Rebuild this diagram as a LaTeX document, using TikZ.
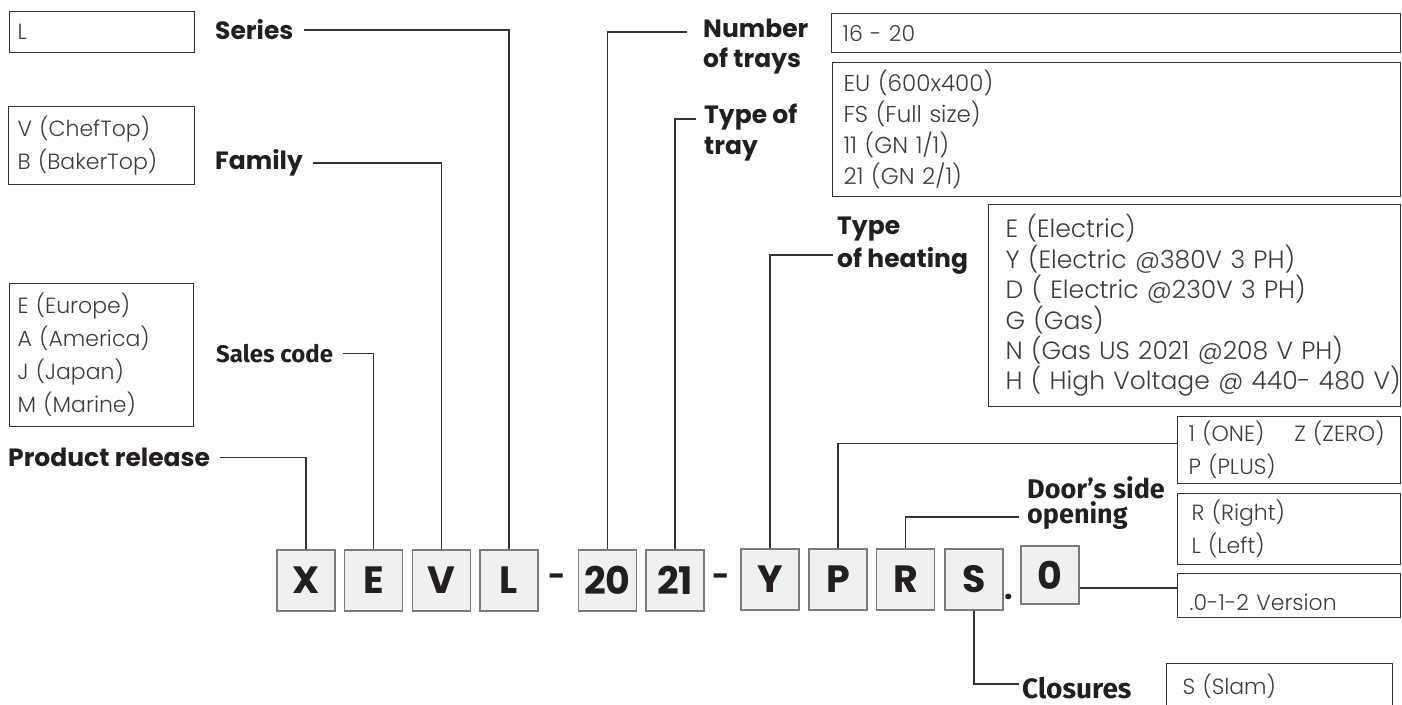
\documentclass[tikz,border=0pt]{standalone}
\usepackage{fontspec}
\setmainfont{Poppins}
\newfontfamily\lightfont{Poppins Light}
\newfontfamily\firafont{Fira Sans}
\usetikzlibrary{positioning}
\definecolor{inkc}{HTML}{231F20}
\definecolor{linec}{HTML}{333333}
\definecolor{optc}{HTML}{3C3C3C}
\definecolor{boxfill}{HTML}{EFF0F2}
\definecolor{boxdraw}{HTML}{7A7A7A}
\tikzset{
    letterbox/.style={draw=boxdraw, fill=boxfill, line width=1.5pt,
        minimum width=58pt, minimum height=61pt, inner sep=0pt,
        font=\fontsize{38}{40}\selectfont\bfseries, text=inkc},
    optbox/.style={draw=linec, line width=1.2pt, anchor=north west,
        align=left, inner ysep=0pt, text=optc,
        font=\lightfont\fontsize{22}{33}\selectfont},
    tag/.style={anchor=west, inner xsep=10pt, inner ysep=0pt, align=left,
        text=inkc, font=\fontsize{25}{30}\selectfont\bfseries},
    ftag/.style={tag, font=\firafont\fontsize{24}{24}\selectfont\bfseries},
    sepmark/.style={inner sep=0pt, text=inkc, font=\fontsize{30}{30}\selectfont\bfseries},
    link/.style={draw=linec, line width=1.3pt},
    heavylink/.style={draw=linec, line width=2.4pt}
}
\begin{document}
\begin{tikzpicture}[x=1pt, y=-1pt]
    \useasboundingbox (0,0) rectangle (1402,704);
    % code letters
    \node[letterbox] (bX) at (306,580.5) {X};
    \node[letterbox] (bE) at (373.5,580.5) {E};
    \node[letterbox] (bV) at (441.5,580.5) {V};
    \node[letterbox] (bL) at (509,580.5) {L};
    \node[sepmark] (dashA) at (557,580) {-};
    \node[letterbox] (b20) at (607.5,580.5) {20};
    \node[letterbox] (b21) at (675,580.5) {21};
    \node[sepmark] (dashB) at (721,580) {-};
    \node[letterbox] (bY) at (770,579.5) {Y};
    \node[letterbox] (bP) at (838,579.5) {P};
    \node[letterbox] (bR) at (905.5,579.5) {R};
    \node[letterbox] (bS) at (974,579.5) {S};
    \node[sepmark] (dotA) at (1009,597) {.};
    \node[letterbox, minimum height=58pt] (b0) at (1050,575) {0};
    % option boxes
    \node[optbox, inner xsep=8pt, text width=169pt, minimum height=41pt] (oSeries) at (9,11) {L};
    \node[optbox, inner xsep=9pt, text width=168pt, minimum height=78pt] (oFamily) at (8,106)
        {V (ChefTop)\\B (BakerTop)};
    \node[optbox, inner xsep=8pt, text width=168pt, minimum height=143pt] (oSales) at (9,283)
        {E (Europe)\\A (America)\\J (Japan)\\M (Marine)};
    \node[optbox, inner xsep=11pt, text width=547pt, minimum height=39pt] (oTrays) at (831,13) {16 - 20};
    \node[optbox, inner xsep=11pt, text width=546pt, minimum height=134pt, font=\lightfont\fontsize{23}{31}\selectfont] (oTray) at (832,62)
        {EU (600x400)\\FS (Full size)\\11 (GN 1/1)\\21 (GN 2/1)};
    \node[optbox, inner xsep=17pt, text width=378pt, minimum height=202pt, font=\lightfont\fontsize{25}{30.4}\selectfont] (oHeat) at (988,204)
        {E (Electric)\\Y (Electric @380V 3 PH)\\D ( Electric @230V 3 PH)\\G (Gas)\\N (Gas US 2021 @208 V PH)\\\mbox{H ( High Voltage @ 440- 480 V)}};
    \node[optbox, inner xsep=11pt, text width=201pt, minimum height=67pt] (oModel) at (1177,416)
        {1 (ONE)\hspace{30pt}Z (ZERO)\\P (PLUS)};
    \node[optbox, inner xsep=14pt, text width=195pt, minimum height=71pt] (oDoor) at (1177,493)
        {R (Right)\\L (Left)};
    \node[optbox, inner xsep=12pt, text width=199pt, minimum height=44pt, text height=30pt, text depth=1pt] (oVer) at (1177,573)
        {.0-1-2 Version};
    \node[optbox, inner xsep=16pt, text width=194pt, minimum height=45pt] (oClos) at (1166,663) {S (Slam)};
    % field names
    \node[tag] (tSeries) at (205,30) {Series};
    \node[tag] (tFamily) at (205,163) {Family};
    \node[ftag] (tSales) at (206,353.5) {Sales code};
    \node[tag] (tRelease) at (-2,457.5) {Product release};
    \node[tag] (tTrays) at (693,47) {Number\\of trays};
    \node[tag, font=\fontsize{25}{31}\selectfont\bfseries] (tTray) at (694,132.5) {Type of\\tray};
    \node[tag, font=\fontsize{25}{33}\selectfont\bfseries] (tHeat) at (827,245.5) {Type\\of heating};
    \node[ftag, font=\firafont\fontsize{27}{25}\selectfont\bfseries] (tDoor) at (1017,503) {Door’s side\\opening};
    \node[ftag, font=\firafont\fontsize{28}{28}\selectfont\bfseries] (tClos) at (1012,688) {Closures};
    \coordinate (trays-c) at (687,32);
    \coordinate (tray-c) at (696,119);
    \coordinate (heat-c) at (833,255);
    \coordinate (door-c) at (1019,517);
    \coordinate (clos-c) at (1019,684);
    \coordinate (ver-c) at ([yshift=-13pt]b0.east);
    % connectors
    \draw[link] (tSeries.east) -| (bL.north);
    \draw[link] (tFamily.east) -| (bV.north);
    \draw[link] (tSales.east) -| (bE.north);
    \draw[link] (tRelease.east) -| (bX.north);
    \draw[link] (trays-c) -| (b20.north);
    \draw[link] (tray-c) -| (b21.north);
    \draw[link] (heat-c) -| (bY.north);
    \draw[link] ([yshift=6.5pt]oModel.west) -| (bP.north);
    \draw[link] (door-c) -| (bR.north);
    \draw[heavylink] (ver-c) -- (ver-c -| oVer.west);
    \draw[heavylink] (bS.south) |- (clos-c);
\end{tikzpicture}
\end{document}
